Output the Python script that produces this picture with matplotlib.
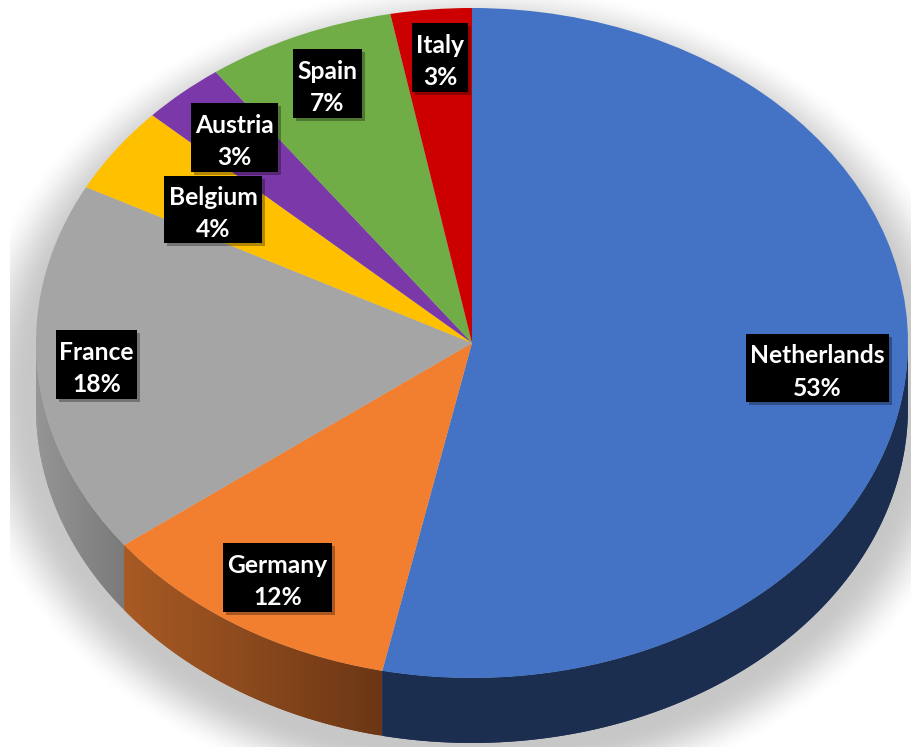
import numpy as np
import matplotlib
matplotlib.use("Agg")
from matplotlib import pyplot as plt
from matplotlib import patheffects as pe
from matplotlib.colors import to_rgb
from matplotlib.patches import Rectangle

W, H = 912, 747
# ellipse of the pie top, in pixels
CX, CY, RX, RY = 472, 343, 436, 335
DEPTH = 65 / RY

countries = ["Netherlands", "Germany", "France", "Belgium", "Austria", "Spain", "Italy"]
shares = [53.3, 11.4, 18.0, 4.2, 3.1, 7.0, 3.0]
percent_labels = ["53%", "12%", "18%", "4%", "3%", "7%", "3%"]
top_colors = ["#4472C4", "#F27E30", "#A5A5A5", "#FFC000", "#7A38A8", "#70AD47", "#CC0000"]
side_left = ["#1B2E50", "#A85A24", "#959595", "#A87E00", "#50246E", "#4A722E", "#860000"]
side_right = ["#1B2E50", "#6B3614", "#7A7A7A", "#A87E00", "#50246E", "#4A722E", "#860000"]
# label boxes in pixels: left, right, top, bottom
box_left = [746, 223, 56, 164, 191, 293, 412]
box_right = [889, 332, 137, 262, 278, 362, 468]
box_top = [334, 543, 330, 176, 103, 49, 23]
box_bottom = [402, 612, 399, 243, 172, 118, 92]

fig = plt.figure(figsize=(W / 100, H / 100), dpi=100)
ax = fig.add_axes([0, 0, 1, 1])
xlim = (-CX / RX, (W - CX) / RX)
ylim = ((CY - H) / RY, CY / RY)

# soft shadow under the pie
px, py = np.meshgrid(np.arange(W) + 0.5, np.arange(H) + 0.5)
d = np.sqrt(((px - 472) / 468) ** 2 + ((py - 395) / 378) ** 2)
t = np.clip((1.10 - d) / 0.15, 0, 1)
t = t * t * (3 - 2 * t)
shadow = np.zeros((H, W, 4))
shadow[..., 3] = 0.22 * t
shadow[:, :10, 3] = 0
ax.imshow(shadow, extent=(xlim[0], xlim[1], ylim[0], ylim[1]), origin="upper",
          aspect="auto", interpolation="bilinear", zorder=0)

# side wall, front half only, thin overlapping strips so the shading can change along x
edges = np.cumsum([0] + shares) / sum(shares) * 2 * np.pi
for i in range(len(shares)):
    a0 = max(edges[i], np.pi / 2)
    a1 = min(edges[i + 1], 3 * np.pi / 2)
    if a1 <= a0:
        continue
    a = np.linspace(a0, a1, 80)
    x = np.sin(a)
    y = np.cos(a)
    c0 = np.array(to_rgb(side_left[i]))
    c1 = np.array(to_rgb(side_right[i]))
    xmin, xmax = x.min(), x.max()
    for j in range(len(a) - 1):
        k = min(j + 2, len(a) - 1)
        f = ((x[j] + x[j + 1]) / 2 - xmin) / (xmax - xmin)
        ax.fill([x[j], x[k], x[k], x[j]],
                [y[j], y[k], y[k] - DEPTH, y[j] - DEPTH],
                color=c0 + (c1 - c0) * f, lw=0, zorder=1 + j * 1e-4)

wedges, _ = ax.pie(shares, colors=top_colors, startangle=90, counterclock=False,
                   radius=1, wedgeprops={"linewidth": 0})
for w in wedges:
    w.set_zorder(2)

for i, name in enumerate(countries):
    l, r, t_, b = box_left[i], box_right[i], box_top[i], box_bottom[i]
    box = Rectangle((l / W, 1 - b / H), (r - l) / W, (b - t_) / H, transform=ax.transAxes,
                    fc="black", ec="none", zorder=4)
    box.set_path_effects([
        pe.SimplePatchShadow(offset=(2, -2), shadow_rgbFace="black", alpha=0.3),
        pe.Normal()])
    ax.add_patch(box)
    ax.text((l + r) / 2 / W, 1 - ((t_ + b) / 2 + 4) / H, name + "\n" + percent_labels[i],
            transform=ax.transAxes, ha="center", va="center", ma="center", color="white",
            family="Lato", fontweight="bold", fontsize=17.7, linespacing=1.49, zorder=5)

ax.set_aspect("auto")
ax.set_xlim(xlim)
ax.set_ylim(ylim)
ax.axis("off")
fig.savefig("out.png", dpi=100, facecolor="white")
